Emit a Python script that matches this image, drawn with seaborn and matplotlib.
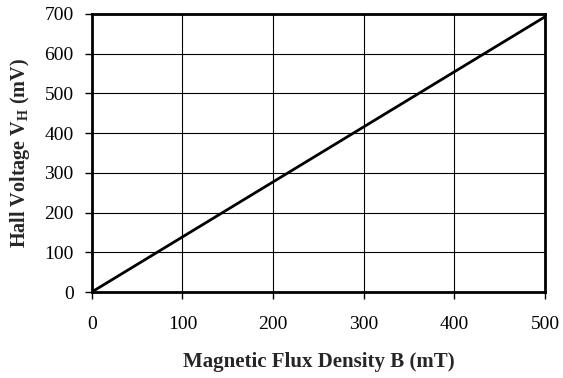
import seaborn as sns
import matplotlib.pyplot as plt
import pandas as pd

# flux density (mT) vs hall voltage (mV)
flux = [0, 100, 200, 300, 400, 500]
voltage = [0, 138.6, 277.2, 415.8, 554.4, 693]

sns.set_style("white")
plt.rcParams['font.family'] = ['Liberation Serif', 'DejaVu Serif']
plt.rcParams['mathtext.fontset'] = 'custom'
plt.rcParams['mathtext.rm'] = 'Liberation Serif'
plt.rcParams['mathtext.bf'] = 'Liberation Serif:bold'

df = pd.DataFrame({'B': flux, 'VH': voltage})

fig = plt.figure(figsize=(5.63, 3.78), dpi=100)
ax = fig.add_axes([0.163, 0.2275, 0.805, 0.7355])
sns.lineplot(data=df, x='B', y='VH', color='black', linewidth=2, ax=ax)

ax.set_xlim(0, 500)
ax.set_ylim(0, 700)
ax.set_xticks(range(0, 501, 100))
ax.set_yticks(range(0, 701, 100))
ax.grid(True, color='black', linewidth=0.8)
ax.set_axisbelow(True)
for s in ax.spines.values():
    s.set_color('black')
    s.set_linewidth(2)
ax.tick_params(axis='both', direction='out', length=5, width=1, color='black',
               labelsize=14, labelcolor='black', pad=8, bottom=True, left=True)
ax.tick_params(axis='x', pad=12)
ax.set_xlabel('Magnetic Flux Density B (mT)', fontsize=15, fontweight='bold', labelpad=14)
ax.set_ylabel(r'Hall Voltage V$_\mathbf{H}$ (mV)', fontsize=14.5, fontweight='bold', labelpad=9)

fig.savefig('out.png', dpi=100)
